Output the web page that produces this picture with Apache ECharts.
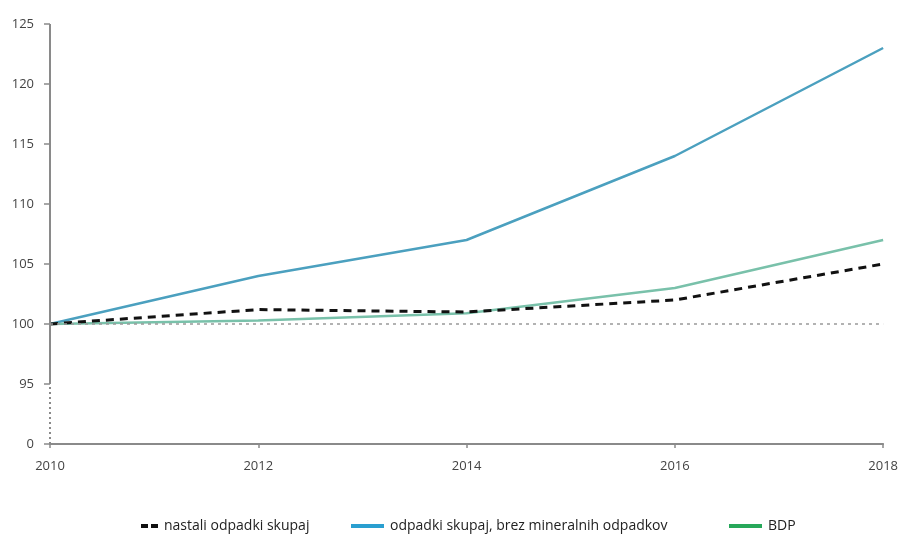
<!DOCTYPE html>
<html><head><meta charset="utf-8">
<script src="https://cdn.jsdelivr.net/npm/echarts@6/dist/echarts.min.js"></script>
<style>html,body{margin:0;padding:0;background:#fff;overflow:hidden}#c{width:901px;height:536px}</style>
</head><body><div id="c"></div>
<script>
const years = [2010, 2012, 2014, 2016, 2018];
const nastali = [100, 101.2, 101, 102, 105];
const brezMin = [100, 104, 107, 114, 123];
const bdp = [100, 100.3, 100.9, 103, 107];
const seriesNames = ['nastali odpadki skupaj', 'odpadki skupaj, brez mineralnih odpadkov', 'BDP'];
const yMin = 90, yMax = 125, yStep = 5, breakTop = 95, refLine = 100;
const yLabelMap = {90: '0'};

const font = '"Open Sans", "Noto Sans", sans-serif';
const pair = (arr) => years.map((y, i) => [y, arr[i]]);

const chart = echarts.init(document.getElementById('c'));
const legendBase = {
  top: 514, itemHeight: 4, itemGap: 0,
  textStyle: {fontFamily: font, fontSize: 14, color: '#222', padding: [0, 0, 0, 1]}
};
chart.setOption({
  animation: false,
  grid: {left: 50, right: 11, top: 24, bottom: 92},
  xAxis: {
    type: 'value', min: years[0], max: years[years.length - 1], interval: 2,
    axisLine: {show: true, lineStyle: {color: '#8a8a8a', width: 2}},
    axisTick: {show: true, length: 4, lineStyle: {color: '#8a8a8a', width: 1.5}},
    axisLabel: {fontFamily: font, fontSize: 13, color: '#444', margin: 16, formatter: v => String(v)},
    splitLine: {show: false}
  },
  yAxis: {
    type: 'value', min: yMin, max: yMax, interval: yStep,
    axisLine: {show: false},
    axisTick: {show: true, length: 6, lineStyle: {color: '#8a8a8a', width: 1.5}},
    axisLabel: {fontFamily: font, fontSize: 13, color: '#444', margin: 16,
      formatter: v => (yLabelMap[v] !== undefined ? yLabelMap[v] : String(v))},
    splitLine: {show: false}
  },
  legend: [
    Object.assign({}, legendBase, {left: 136, itemWidth: 17,
      data: [{name: seriesNames[0], icon: 'path://M0,0h7v4h-7zM10,0h7v4h-7z', itemStyle: {color: '#111'}}]}),
    Object.assign({}, legendBase, {left: 346, itemWidth: 33,
      data: [{name: seriesNames[1], icon: 'rect', itemStyle: {color: '#2a9fd0'}}]}),
    Object.assign({}, legendBase, {left: 724, itemWidth: 33,
      data: [{name: seriesNames[2], icon: 'rect', itemStyle: {color: '#27a85a'}}]})
  ],
  series: [
    {
      name: seriesNames[0], type: 'line', data: pair(nastali), symbol: 'none', z: 4,
      lineStyle: {color: '#111', width: 3, type: [8, 6]}, itemStyle: {color: '#111'},
      markLine: {
        silent: true, symbol: 'none', label: {show: false},
        data: [
          [{coord: [years[0], yMin]}, {coord: [years[0], breakTop], lineStyle: {type: [2, 3], width: 2, color: '#8a8a8a'}}],
          [{coord: [years[0], breakTop]}, {coord: [years[0], yMax], lineStyle: {type: 'solid', width: 2, color: '#8a8a8a'}}],
          [{coord: [years[0], refLine]}, {coord: [years[years.length - 1], refLine], lineStyle: {type: [3, 4], width: 1.5, color: '#999'}}]
        ]
      }
    },
    {
      name: seriesNames[1], type: 'line', data: pair(brezMin), symbol: 'none', z: 3,
      lineStyle: {color: '#4ba0bf', width: 2.5}, itemStyle: {color: '#4ba0bf'}
    },
    {
      name: seriesNames[2], type: 'line', data: pair(bdp), symbol: 'none', z: 3,
      lineStyle: {color: '#79c1aa', width: 2.5}, itemStyle: {color: '#79c1aa'}
    }
  ]
});
</script></body></html>
